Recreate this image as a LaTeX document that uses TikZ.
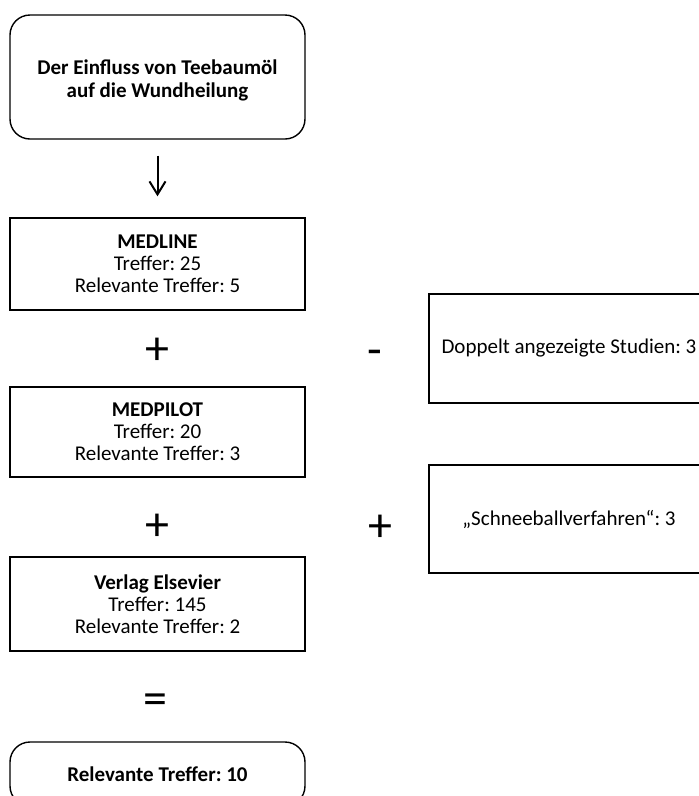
\documentclass[tikz,border=0pt]{standalone}
\usepackage{fontspec}
\setmainfont{Carlito}
\usetikzlibrary{arrows.meta}

\tikzset{
  box/.style={draw, line width=1.4pt, inner sep=0pt, align=center,
    minimum width=295pt, font=\fontsize{21}{22}\selectfont\frenchspacing},
  roundbox/.style={box, rounded corners=20pt},
  sidebox/.style={box, minimum width=280pt},
  op/.style={inner sep=0pt, font=\fontsize{48}{48}\selectfont}
}

\begin{document}
\begin{tikzpicture}[x=1pt,y=-1pt]
			\useasboundingbox (0,0) rectangle (699,796);
			\node[roundbox, minimum height=124pt, font=\fontsize{21}{23}\selectfont\frenchspacing] (thema) at (157.5,77){\raisebox{-10pt}[0pt][0pt]{\begin{tabular}{@{}c@{}}\textbf{Der Einfluss von Teebaumöl}\\\textbf{auf die Wundheilung}\end{tabular}}};
			\node[box, minimum height=92pt] (medline) at (157.5,264){\textbf{MEDLINE}\\Treffer: 25\\Relevante Treffer: 5};
			\node[box, minimum height=90pt] (medpilot) at (157.5,432){\textbf{MEDPILOT}\\Treffer: 20\\Relevante Treffer: 3};
			\node[box, minimum height=94pt] (elsevier) at (157.5,604){\textbf{Verlag Elsevier}\\Treffer: 145\\Relevante Treffer: 2};
			\node[roundbox, minimum height=64pt] (summe) at (157.5,774){\textbf{Relevante Treffer: 10}};
			\node[sidebox, minimum height=109pt] (doppelt) at (569,348.5){Doppelt angezeigte Studien: 3};
			\node[sidebox, minimum height=108pt] (schnee) at (569,519){„Schneeballverfahren“: 3};
			\node[op] (plusA) at (157,351){+};
			\node[op] (plusB) at (157,527){+};
			\node[op] (gleich) at (155,704){=};
			\node[op] (minus) at (375,358){-};
			\node[op] (plusC) at (380,528){+};
			\draw[line width=2pt, -{Straight Barb[length=13pt,width=16pt]}, shorten <=16pt, shorten >=21pt] (thema) -- (medline);
		\end{tikzpicture}
\end{document}
